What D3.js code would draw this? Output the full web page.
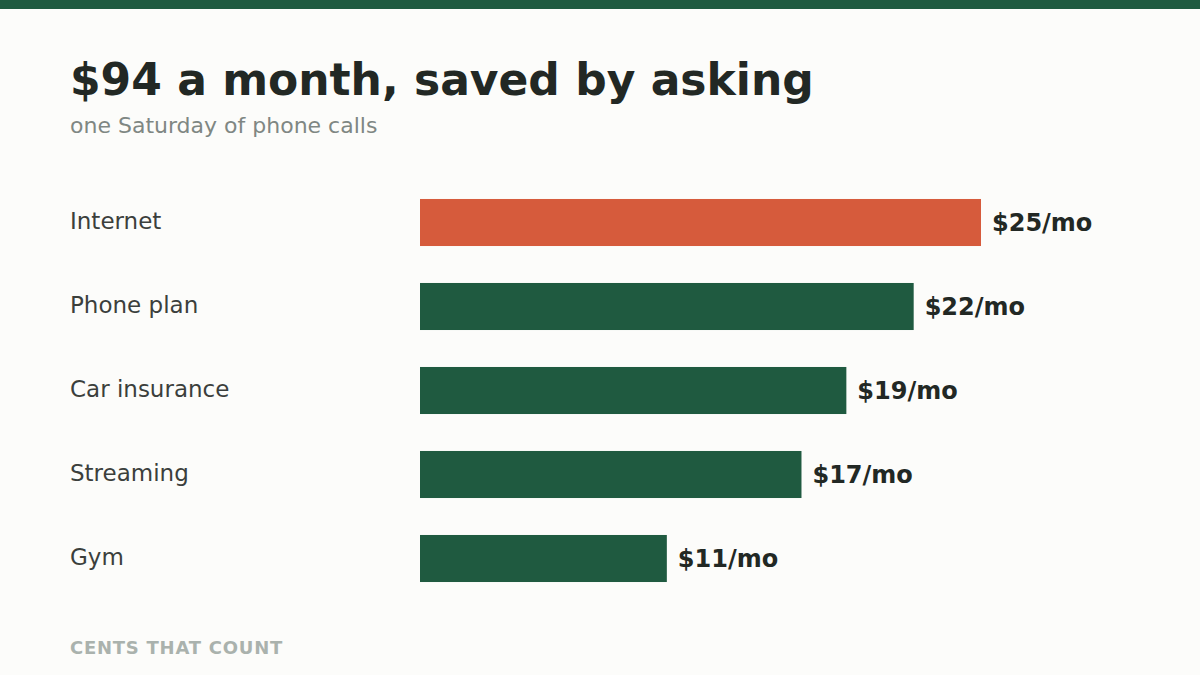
<!DOCTYPE html>
<html>
<head>
<meta charset="utf-8">
<script src="https://cdn.jsdelivr.net/npm/d3@7"></script>
<style>
  html, body { margin: 0; padding: 0; background: #fcfcfa; }
  svg { display: block; font-family: "DejaVu Sans", sans-serif; }
</style>
</head>
<body>
<svg id="chart" width="1200" height="675"></svg>
<script>
const categories = ["Internet", "Phone plan", "Car insurance", "Streaming", "Gym"];
const savings = [25, 22, 19, 17, 11];
const valueLabels = ["$25/mo", "$22/mo", "$19/mo", "$17/mo", "$11/mo"];
const highlight = ["Internet"];

const W = 1200, H = 675;
const svg = d3.select("#chart");

svg.append("rect").attr("x", 0).attr("y", 0).attr("width", W).attr("height", H).attr("fill", "#fcfcfa");
svg.append("rect").attr("x", 0).attr("y", 0).attr("width", W).attr("height", 9).attr("fill", "#1f5a40");

svg.append("text").attr("x", 70).attr("y", 95)
  .attr("font-size", 44).attr("font-weight", "bold").attr("fill", "#222824")
  .text("$94 a month, saved by asking");
svg.append("text").attr("x", 70).attr("y", 133)
  .attr("font-size", 22).attr("fill", "#7f8783")
  .text("one Saturday of phone calls");

const x = d3.scaleLinear().domain([0, 25]).range([420, 981]);
const y = d3.scaleBand().domain(categories).range([180.5, 600.5]).paddingInner(0.44).paddingOuter(0.22);

const data = categories.map((c, i) => ({ c, v: savings[i], label: valueLabels[i] }));

svg.append("g").selectAll("rect").data(data).join("rect")
  .attr("x", x(0))
  .attr("y", d => y(d.c))
  .attr("width", d => x(d.v) - x(0))
  .attr("height", y.bandwidth())
  .attr("fill", d => highlight.includes(d.c) ? "#d65b3c" : "#1f5a40");

svg.append("g").selectAll("text").data(data).join("text")
  .attr("x", 70)
  .attr("y", d => y(d.c) + y.bandwidth() / 2)
  .attr("dy", "0.3em")
  .attr("font-size", 23).attr("fill", "#3b3f3c")
  .text(d => d.c);

svg.append("g").selectAll("text").data(data).join("text")
  .attr("x", d => x(d.v) + 11)
  .attr("y", d => y(d.c) + y.bandwidth() / 2)
  .attr("dy", "0.35em")
  .attr("font-size", 24).attr("font-weight", "bold").attr("fill", "#222824")
  .text(d => d.label);

svg.append("text").attr("x", 70).attr("y", 654)
  .attr("font-size", 18).attr("font-weight", "bold").attr("fill", "#aab2ad")
  .attr("letter-spacing", 0.75)
  .text("CENTS THAT COUNT");
</script>
</body>
</html>
